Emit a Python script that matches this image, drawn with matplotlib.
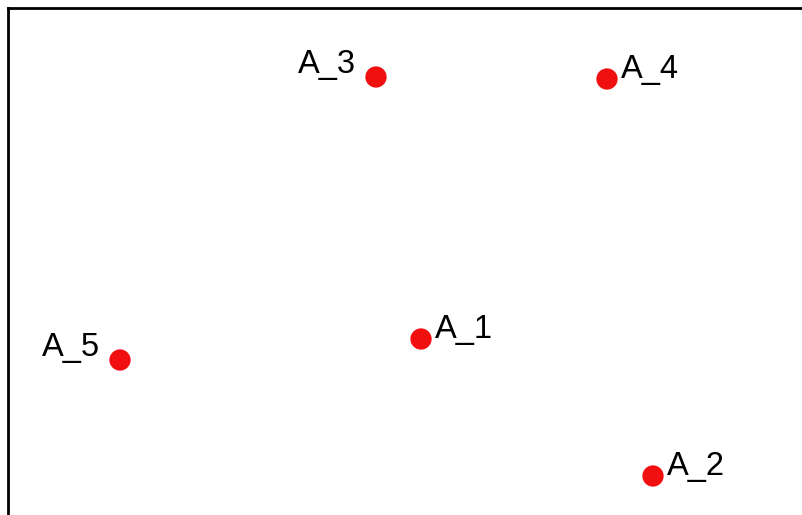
import matplotlib
matplotlib.use("Agg")
import matplotlib.pyplot as plt

labels = ["A_1", "A_2", "A_3", "A_4", "A_5"]
x_vals = [413, 645, 368, 599, 112]
y_vals = [176, 39, 438, 436, 155]
sides = ["right", "right", "left", "right", "left"]

fig = plt.figure(figsize=(8.03, 5.15), dpi=100)
ax = fig.add_axes([8 / 803, 0, 795 / 803, 507 / 515])
ax.set_xlim(0, 795)
ax.set_ylim(0, 507)
ax.scatter(x_vals, y_vals, s=235, color="#f01010", edgecolors="none", zorder=3)
for lab, x, y, side in zip(labels, x_vals, y_vals, sides):
    if side == "right":
        ax.annotate(lab, (x, y), xytext=(14, 1), textcoords="offset pixels",
                    ha="left", va="baseline", fontsize=23.5, family="Liberation Sans")
    else:
        ax.annotate(lab, (x, y), xytext=(-20, 4), textcoords="offset pixels",
                    ha="right", va="baseline", fontsize=23.5, family="Liberation Sans")
ax.set_xticks([])
ax.set_yticks([])
ax.spines["right"].set_visible(False)
ax.spines["bottom"].set_visible(False)
ax.spines["left"].set_linewidth(2)
ax.spines["top"].set_linewidth(2)
fig.savefig("out.png", dpi=100)
